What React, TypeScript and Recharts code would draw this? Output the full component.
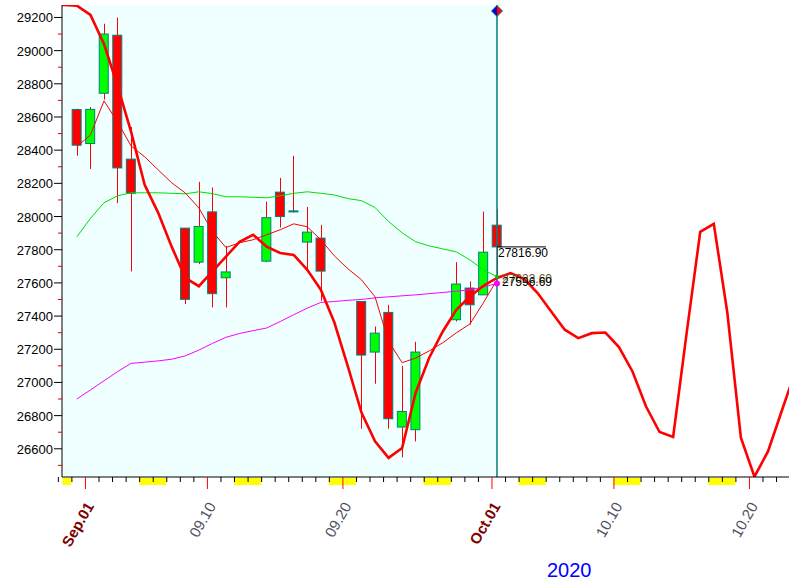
import React from 'react'
import {
  ComposedChart, Line, Bar, XAxis, YAxis, ReferenceArea, ReferenceLine, ReferenceDot
} from 'recharts'

// calendar days counted from Aug 31 2020 (1 = Sep.01, 31 = Oct.01)
const days = [-2, -1, 0, 1, 2, 3, 4, 5, 6, 7, 8, 9, 10, 11, 12, 13, 14, 15, 16, 17, 18, 19, 20,
  21, 22, 23, 24, 25, 26, 27, 28, 29, 30, 31, 32, 33, 34, 35, 36, 37, 38, 39, 40, 41, 42, 43,
  44, 45, 46, 47, 48, 49, 50, 51, 52, 53]

// thick red curve (runs past Oct.01)
const thickLine = [29275, 29275, 29271, 29215, 29040, 28787, 28510, 28191, 28022, 27817, 27631,
  27580, 27669, 27759, 27848, 27890, 27819, 27780, 27769, 27679, 27559, 27361, 27095, 26818,
  26645, 26545, 26605, 26938, 27149, 27307, 27438, 27518, 27583, 27630, 27659, 27625, 27539,
  27428, 27318, 27267, 27297, 27301, 27213, 27066, 26855, 26701, 26671, 27300, 27908, 27956,
  27420, 26667, 26432, 26584, 26825, 27064]

// the thin lines run from day 0 to day 31
const thinLine = [28422, 28492, 28697, 28570, 28425, 28360, 28281, 28203, 28142, 28052, 27910,
  27813, 27842, 27860, 27890, 27920, 27956, 27938, 27860, 27763, 27685, 27619, 27516, 27247,
  27119, 27147, 27190, 27239, 27299, 27352, 27480, 27619]
const greenLine = [27878, 27989, 28083, 28125, 28143, 28143, 28143, 28140, 28137, 28149, 28138,
  28119, 28119, 28116, 28113, 28125, 28140, 28149, 28140, 28130, 28108, 28096, 28054, 27970,
  27902, 27848, 27823, 27805, 27787, 27739, 27679, 27637]
const magentaLine = [26900, 26955, 27010, 27065, 27115, 27122, 27130, 27140, 27160, 27195, 27235,
  27272, 27295, 27312, 27328, 27367, 27408, 27448, 27482, 27488, 27495, 27500, 27510, 27516,
  27522, 27528, 27535, 27542, 27550, 27558, 27575, 27597]

const candleDays = [0, 1, 2, 3, 4, 8, 9, 10, 11, 14, 15, 16, 17, 18, 21, 22, 23, 24, 25, 28, 29, 30, 31]
const candleOpen = [28645, 28440, 28743, 29093, 28346, 27930, 27725, 28028, 27631, 27731, 28147,
  28034, 27846, 27870, 27488, 27183, 27422, 26731, 26715, 27378, 27569, 27528, 27948]
const candleHigh = [28650, 28660, 29162, 29199, 28540, 27930, 28209, 28175, 27823, 28090, 28233,
  28366, 28058, 27950, 27488, 27337, 27468, 27100, 27245, 27725, 27609, 28030, 28045]
const candleLow = [28367, 28287, 28705, 28081, 27669, 27472, 27713, 27452, 27452, 27725, 27934,
  28024, 27669, 27492, 26721, 26992, 26721, 26548, 26645, 27367, 27349, 27528, 27630]
const candleClose = [28430, 28646, 29100, 28293, 28140, 27501, 27940, 27535, 27666, 27993, 28000,
  28032, 27906, 27671, 27165, 27297, 26781, 26825, 27183, 27593, 27468, 27785, 27816.9]

const weekendDays = [-1, 5, 6, 12, 13, 19, 20, 26, 27, 33, 34, 40, 41, 47, 48]
const dayTicks = days.filter(d => d >= -1 && d <= 52)
const tickLabels: Record<number, string> = {
  1: 'Sep.01', 10: '09.10', 20: '09.20', 31: 'Oct.01', 40: '10.10', 50: '10.20',
}
const monthStarts = [1, 31]
const priceTicks = [26500, 26600, 26700, 26800, 26900, 27000, 27100, 27200, 27300, 27400, 27500,
  27600, 27700, 27800, 27900, 28000, 28100, 28200, 28300, 28400, 28500, 28600, 28700, 28800,
  28900, 29000, 29100, 29200]

const lastDay = 31
const lastClose = 27816.9
const lastLabelA = 27623.6
const lastLabelB = 27596.69
const markerPrice = 29239

const rows = days.map((d, k) => {
  const c = candleDays.indexOf(d)
  const inLines = d >= 0 && d < thinLine.length
  return {
    day: d,
    thick: thickLine[k],
    thin: inLines ? thinLine[d] : null,
    green: inLines ? greenLine[d] : null,
    magenta: inLines ? magentaLine[d] : null,
    range: c >= 0 ? [candleLow[c], candleHigh[c]] : null,
    open: c >= 0 ? candleOpen[c] : null,
    close: c >= 0 ? candleClose[c] : null,
  }
})

const AXIS_X = 62
const AXIS_Y = 477
const FONT = 'Liberation Sans, Arial, sans-serif'

// eslint-disable-next-line @typescript-eslint/no-explicit-any
function Candle(props: any) {
  const { x, y, width, height, payload } = props
  if (!payload || payload.open == null || !payload.range) return <g />
  const [low, high] = payload.range
  const h = Math.abs(height)
  const top0 = height < 0 ? y + height : y
  const ppu = high > low ? h / (high - low) : 0
  const bodyTop = top0 + (high - Math.max(payload.open, payload.close)) * ppu
  const bodyH = Math.max(Math.abs(payload.open - payload.close) * ppu, 1)
  const cx = Math.round(x + width / 2) + 0.5
  const up = payload.close >= payload.open
  return (
    <g>
      <line x1={cx} x2={cx} y1={top0} y2={top0 + h} stroke="#ff0000" strokeWidth={1} />
      <rect x={x} y={bodyTop} width={width} height={bodyH}
        fill={up ? '#00ff00' : '#ff0000'} stroke="#008080" strokeWidth={1} />
    </g>
  )
}

// eslint-disable-next-line @typescript-eslint/no-explicit-any
function PriceTick({ y, payload }: any) {
  const v = payload.value
  const major = v % 200 === 0
  return (
    <g>
      {major && (
        <text x={53} y={y} dy={5} textAnchor="end" fontSize={13} fontFamily={FONT} fill="#000">{v}</text>
      )}
      <line x1={major ? 54 : 58} x2={AXIS_X} y1={y} y2={y} stroke={major ? '#000' : '#e00000'} />
    </g>
  )
}

// eslint-disable-next-line @typescript-eslint/no-explicit-any
function DayTick({ x, payload }: any) {
  const d = payload.value
  const bx = x - 5
  const label = tickLabels[d]
  const major = label !== undefined
  const bold = monthStarts.includes(d)
  const left = Math.max(x - 5.5, AXIS_X + 0.5)
  return (
    <g>
      {weekendDays.includes(d) && (
        <rect x={left} y={AXIS_Y + 1} width={x + 8 - left} height={7} fill="#ffff00" />
      )}
      <line x1={bx} x2={bx} y1={AXIS_Y} y2={major ? AXIS_Y + 12 : AXIS_Y + 5}
        stroke={major ? '#ff0000' : '#000'} />
      {major && (
        <text transform={`translate(${bx + 9},${AXIS_Y + 29}) rotate(-60)`} textAnchor="end"
          fontSize={15} fontFamily={FONT} fontWeight={bold ? 'bold' : 'normal'}
          fill={bold ? '#800000' : '#505060'}>{label}</text>
      )}
    </g>
  )
}

export default function App() {
  return (
    <div style={{ position: 'absolute', left: 0, top: 0, width: 789, height: 580, background: '#fff' }}>
      <ComposedChart width={789} height={580} data={rows} margin={{ top: 5, right: 0, bottom: 0, left: 0 }}>
        <XAxis dataKey="day" type="number" domain={[-1.1, 52.55]} allowDataOverflow ticks={dayTicks}
          interval={0} tick={(p: any) => <DayTick {...p} />} tickLine={false}
          axisLine={{ stroke: '#000' }} height={103} />
        <YAxis type="number" domain={[26430, 29275]} allowDataOverflow ticks={priceTicks} interval={0}
          tick={(p: any) => <PriceTick {...p} />} tickLine={false} axisLine={{ stroke: '#000' }} width={62} />
        <ReferenceArea x1={-1.1} x2={lastDay} fill="#f0ffff" fillOpacity={1} stroke="none" ifOverflow="visible" />
        <Bar dataKey="range" barSize={9} shape={(p: any) => <Candle {...p} />} isAnimationActive={false} />
        <Line dataKey="green" stroke="#00e000" strokeWidth={1} dot={false} isAnimationActive={false} />
        <Line dataKey="magenta" stroke="#ff00ff" strokeWidth={1} dot={false} isAnimationActive={false} />
        <Line dataKey="thin" stroke="#ff0000" strokeWidth={1} dot={false} isAnimationActive={false} />
        <Line dataKey="thick" stroke="#ff0000" strokeWidth={2.6} dot={false} isAnimationActive={false} />
        <ReferenceLine x={lastDay} stroke="#008080" strokeWidth={1.5} />
        <ReferenceDot x={lastDay} y={greenLine[lastDay]} r={2} fill="#00c000" stroke="none" />
        <ReferenceDot x={lastDay} y={magentaLine[lastDay]} r={3} fill="#ff00ff" stroke="none" />
        <ReferenceDot x={lastDay} y={lastClose} shape={(p: any) => (
          <g>
            <line x1={p.cx} x2={p.cx + 49} y1={p.cy} y2={p.cy} stroke="#000" />
            <text x={p.cx + 1} y={p.cy + 10} fontSize={12} fontFamily={FONT} fill="#000">{lastClose.toFixed(2)}</text>
          </g>
        )} />
        <ReferenceDot x={lastDay} y={lastLabelA} shape={(p: any) => (
          <text x={p.cx + 5} y={p.cy + 4} fontSize={12} fontFamily={FONT} fill="#6b5a20">{lastLabelA.toFixed(2)}</text>
        )} />
        <ReferenceDot x={lastDay} y={lastLabelB} shape={(p: any) => (
          <text x={p.cx + 5} y={p.cy + 3} fontSize={12} fontFamily={FONT} fill="#000">{lastLabelB.toFixed(2)}</text>
        )} />
        <ReferenceDot x={lastDay} y={markerPrice} shape={(p: any) => (
          <g>
            <polygon points={`${p.cx},${p.cy - 5.5} ${p.cx},${p.cy + 5.5} ${p.cx - 5.5},${p.cy}`} fill="#0000dd" />
            <polygon points={`${p.cx},${p.cy - 5.5} ${p.cx},${p.cy + 5.5} ${p.cx + 5.5},${p.cy}`} fill="#ff0000" />
            <polygon points={`${p.cx},${p.cy - 5.5} ${p.cx + 5.5},${p.cy} ${p.cx},${p.cy + 5.5} ${p.cx - 5.5},${p.cy}`}
              fill="none" stroke="#008080" />
          </g>
        )} />
      </ComposedChart>
      <div style={{ position: 'absolute', left: 547, top: 560, fontSize: 20, lineHeight: '20px', fontFamily: FONT, color: '#0000ff' }}>
        2020
      </div>
    </div>
  )
}
